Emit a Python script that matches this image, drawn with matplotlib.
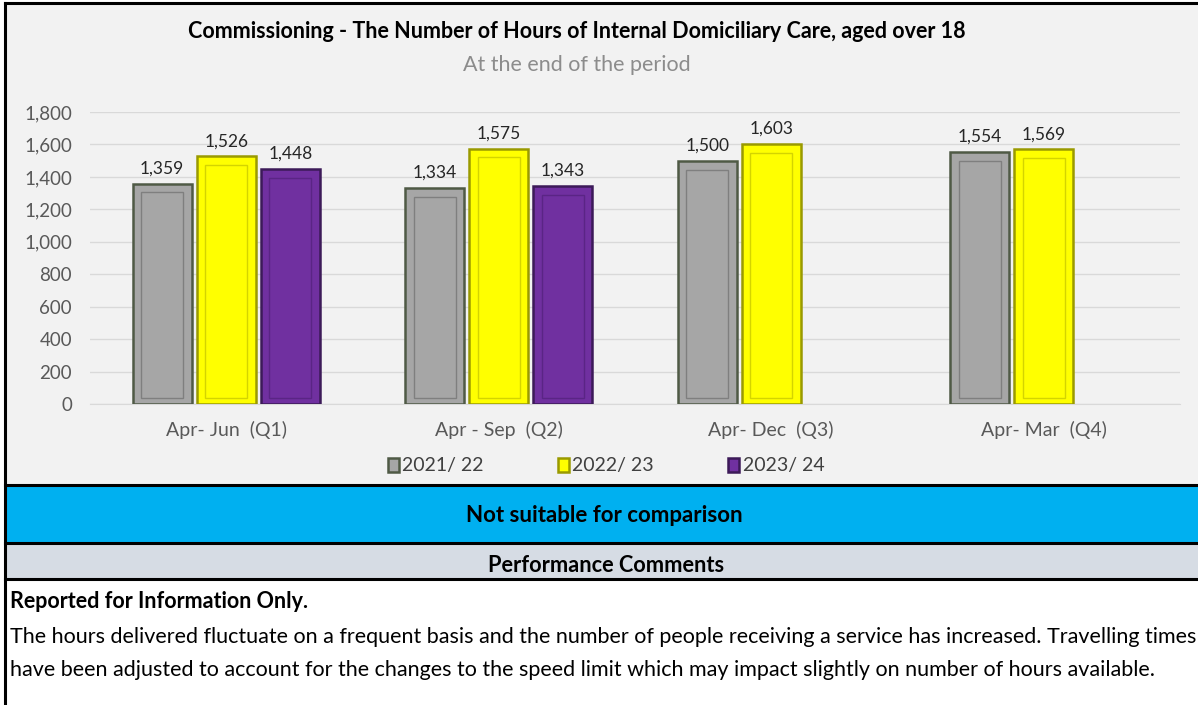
import numpy as np
import matplotlib
matplotlib.use("Agg")
import matplotlib.pyplot as plt
from matplotlib.patches import Rectangle
from matplotlib.lines import Line2D

plt.rcParams['font.family'] = ['Lato', 'DejaVu Sans']

QUARTERS = ['Apr- Jun  (Q1)', 'Apr - Sep  (Q2)', 'Apr- Dec  (Q3)', 'Apr- Mar  (Q4)']
SERIES = ['2021/ 22', '2022/ 23', '2023/ 24']
HOURS_2122 = [1359, 1334, 1500, 1554]
HOURS_2223 = [1526, 1575, 1603, 1569]
HOURS_2324 = [1448, 1343, None, None]

TITLE = 'Commissioning - The Number of Hours of Internal Domiciliary Care, aged over 18'
SUBTITLE = 'At the end of the period'
COMMENT_LINES = [
    'The hours delivered fluctuate on a frequent basis and the number of people receiving a service has increased. Travelling times',
    'have been adjusted to account for the changes to the speed limit which may impact slightly on number of hours available.',
]

W, H = 1198, 705
FACES = ['#a6a6a6', '#ffff00', '#7030a0']
EDGES = ['#4f5a45', '#9a9a00', '#3c1a58']
INNER = ['#7f7f7f', '#d4d400', '#5a2585']


def px(x, y, w, h):
    """ pixel box (top-left origin) -> figure fraction """
    return [x / W, 1 - (y + h) / H, w / W, h / H]


fig = plt.figure(figsize=(W / 100, H / 100), dpi=100)

# background panels (behind the axes)
for top, bot, col in [(3, 485, '#f2f2f2'), (485, 543, '#00b0f0'), (543, 579, '#d6dce4')]:
    fig.patches.append(Rectangle((5 / W, 1 - bot / H), 1, (bot - top) / H, transform=fig.transFigure,
                                 facecolor=col, edgecolor='none', zorder=-5))
for yy in [3, 485, 543, 579]:
    fig.add_artist(Line2D([5 / W, 1], [1 - yy / H] * 2, color='black', lw=2.2,
                          transform=fig.transFigure, zorder=-4))
fig.add_artist(Line2D([5 / W] * 2, [0, 1 - 3 / H], color='black', lw=2.2,
                      transform=fig.transFigure, zorder=-4))

ax = fig.add_axes(px(90, 112, 1090, 292))
ax.set_facecolor('none')

x = np.arange(len(QUARTERS))
offsets = [-0.235, 0.0, 0.235]
width = 0.215

for i, vals in enumerate([HOURS_2122, HOURS_2223, HOURS_2324]):
    xs = [xi + offsets[i] for xi, v in zip(x, vals) if v is not None]
    hs = [v for v in vals if v is not None]
    ax.bar(xs, hs, width=width, color=FACES[i], edgecolor=EDGES[i], linewidth=1.8, zorder=3,
           label=SERIES[i])
    # bevel look: inner outline
    ax.bar(xs, [h - 95 for h in hs], bottom=40, width=width * 0.72, facecolor='none',
           edgecolor=INNER[i], linewidth=1.0, zorder=4)
    for xv, h in zip(xs, hs):
        ax.text(xv, h + 45, f'{h:,}', ha='center', va='bottom', fontsize=12.5, color='#262626')

ax.set_xlim(-0.5, 3.5)
ax.set_ylim(0, 1800)
ax.set_yticks(range(0, 1801, 200))
ax.yaxis.set_major_formatter(matplotlib.ticker.StrMethodFormatter('{x:,.0f}'))
ax.set_xticks(x)
ax.set_xticklabels(QUARTERS)
ax.tick_params(axis='both', length=0, labelsize=14, colors='#595959')
ax.tick_params(axis='y', labelsize=13.5, pad=13)
ax.tick_params(axis='x', pad=12)
ax.grid(axis='y', color='#d9d9d9', linewidth=1.0, zorder=0)
for s in ['top', 'right', 'left']:
    ax.spines[s].set_visible(False)
ax.spines['bottom'].set_color('#d9d9d9')

handles, labels = ax.get_legend_handles_labels()
fig.legend(handles, labels, loc='center', bbox_to_anchor=(606 / W, 1 - 466 / H), ncol=3,
           frameon=False, fontsize=14, handlelength=0.55, handleheight=0.7, columnspacing=3.8,
           handletextpad=0.2, labelcolor='#404040')

fig.text(577 / W, 1 - 31 / H, TITLE, ha='center', va='center', fontsize=15.5, fontweight='bold')
fig.text(577 / W, 1 - 65 / H, SUBTITLE, ha='center', va='center', fontsize=15.5, color='#8c8c8c')

fig.text(604 / W, 1 - 516 / H, 'Not suitable for comparison', ha='center', va='center',
         fontsize=16, fontweight='bold')
fig.text(606 / W, 1 - 565 / H, 'Performance Comments', ha='center', va='center',
         fontsize=15.7, fontweight='bold')
fig.text(10 / W, 1 - 602 / H, 'Reported for Information Only.', ha='left', va='center',
         fontsize=15.5, fontweight='bold')
for k, line in enumerate(COMMENT_LINES):
    fig.text(10 / W, 1 - (637 + 33 * k) / H, line, ha='left', va='center', fontsize=15.5)

fig.savefig('out.png', dpi=100)
